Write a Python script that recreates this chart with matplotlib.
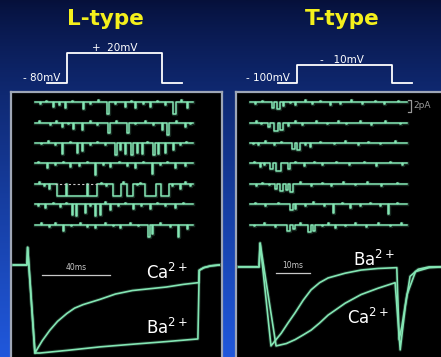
import numpy as np
import matplotlib
matplotlib.use("Agg")
import matplotlib.pyplot as plt

# ---- data ----
# voltage protocols (ms, mV)
l_prot_t = [0, 20, 20, 115, 115, 135]
l_prot_v = [-80, -80, 20, 20, -80, -80]
t_prot_t = [0, 19, 19, 114, 114, 134]
t_prot_v = [-100, -100, -10, -10, -100, -100]

# single channel sweeps: openings as (start ms, duration ms, fraction of unitary current)
L_SWEEPS = [
    [(18, 1, 0.4), (30, 1, 0.5), (48, 1, 0.6), (72, 1.5, 1.0), (90, 1, 0.4), (100, 1, 0.5),
     (115, 1, 0.4), (138, 3, 1.0), (152, 1, 0.5)],
    [(27, 1, 0.4), (38, 1, 0.5), (47, 1, 0.6), (73, 1.5, 0.9), (92, 1.5, 0.9), (127, 1, 0.6),
     (132, 1.5, 1.0), (150, 1, 0.4)],
    [(27, 1, 0.9), (42, 1, 0.8), (47, 1, 0.7), (80, 1.5, 1.0), (85, 1, 0.6), (90, 1, 0.9),
     (96, 1.5, 1.0), (102, 1, 0.8), (107, 1, 0.9), (118, 1.5, 1.0), (123, 1, 0.9), (130, 1, 0.8),
     (138, 1, 0.6)],
    [(12, 1, 0.4), (35, 1, 0.3), (60, 1, 1.0), (75, 1, 0.3), (100, 1, 0.4), (117, 1, 0.9),
     (140, 1, 0.4)],
    [(14, 1, 0.4), (22, 9, 1.0), (32, 20, 1.0), (53, 9, 1.0), (78, 8, 1.0), (92, 6, 1.0),
     (110, 11, 1.0), (126, 8, 1.0), (145, 1, 0.4)],
    [(10, 1, 0.3), (37, 1, 0.9), (41, 1, 1.0), (50, 1, 0.7), (60, 1, 1.0), (65, 1, 0.9),
     (75, 1, 0.5), (98, 1, 0.4), (115, 1, 0.4), (140, 1, 0.3)],
    [(28, 1, 0.5), (60, 1, 0.3), (85, 1, 0.3), (113, 1.5, 1.0), (117, 1, 0.8), (143, 1, 1.0),
     (152, 1, 0.4)],
]
T_SWEEPS = [
    [(22, 2, 0.5), (27, 3, 0.6), (33, 1, 0.3), (45, 1, 0.2), (80, 1, 0.2)],
    [(18, 2, 0.4), (24, 4, 0.7), (30, 3, 0.6), (38, 1, 0.3)],
    [(8, 1, 0.2), (42, 3, 0.5), (47, 3, 0.6), (60, 1, 0.3)],
    [(10, 1, 0.3), (20, 3, 0.5), (26, 5, 0.6), (38, 1.5, 0.5)],
    [(25, 2, 0.4), (30, 3, 0.6), (36, 2, 0.5), (40, 3, 0.7)],
    [(40, 3, 0.5), (45, 1, 0.4), (83, 1, 0.7), (100, 1, 0.3), (138, 1, 0.8)],
    [(37, 3, 0.5), (43, 2, 0.4), (58, 3, 0.6), (63, 2, 0.5), (85, 1, 0.3)],
]
# baseline noise blips: (ms, fraction; negative = upward)
L_BLIPS = [
    [(5, 0.15), (11, -0.12), (24, 0.2), (37, -0.1), (55, 0.12), (63, -0.15), (80, 0.18),
     (96, -0.1), (108, 0.15), (122, -0.12), (130, 0.2), (146, -0.15)],
    [(4, -0.1), (15, 0.18), (21, -0.12), (33, 0.1), (55, -0.15), (62, 0.2), (81, -0.1),
     (100, 0.15), (110, -0.12), (118, 0.18), (141, -0.1), (155, 0.15)],
    [(6, 0.12), (13, -0.15), (20, 0.2), (35, -0.1), (55, 0.15), (62, -0.12), (70, 0.18),
     (112, -0.1), (145, 0.15), (151, -0.12)],
    [(3, -0.12), (20, 0.15), (28, -0.1), (44, 0.2), (52, -0.15), (68, 0.12), (84, -0.1),
     (92, 0.18), (108, -0.12), (125, 0.15), (132, -0.1), (150, 0.2)],
    [(4, -0.12), (9, 0.15), (66, -0.1), (71, 0.2), (88, -0.15), (102, 0.12), (105, -0.1),
     (137, 0.15), (150, -0.12), (155, 0.18)],
    [(3, 0.15), (18, -0.12), (25, 0.2), (31, -0.1), (55, 0.15), (70, -0.15), (83, 0.12),
     (90, -0.1), (106, 0.18), (122, -0.12), (130, 0.15), (148, -0.1)],
    [(6, -0.1), (14, 0.18), (20, -0.12), (36, 0.15), (45, -0.1), (52, 0.2), (70, -0.15),
     (78, 0.12), (95, -0.1), (103, 0.15), (125, -0.12), (135, 0.18)],
]
T_BLIPS = [
    [(5, 0.15), (12, -0.12), (40, 0.1), (55, -0.15), (62, 0.18), (70, -0.1), (90, 0.12),
     (101, -0.15), (112, 0.18), (125, -0.1), (134, 0.15), (148, -0.12)],
    [(6, -0.12), (11, 0.15), (45, -0.1), (52, 0.18), (66, -0.15), (77, 0.12), (88, -0.1),
     (96, 0.15), (110, -0.12), (121, 0.18), (135, -0.1), (150, 0.15)],
    [(3, 0.12), (15, -0.15), (24, 0.18), (31, -0.1), (55, 0.15), (70, -0.12), (84, 0.1),
     (95, -0.15), (108, 0.18), (118, -0.1), (130, 0.12), (145, -0.15)],
    [(4, -0.1), (14, 0.15), (45, -0.12), (54, 0.18), (64, -0.1), (72, 0.15), (86, -0.15),
     (99, 0.12), (114, -0.1), (126, 0.18), (140, -0.12), (152, 0.15)],
    [(6, 0.15), (12, -0.1), (19, 0.12), (50, -0.15), (61, 0.18), (72, -0.1), (81, 0.15),
     (93, -0.12), (105, 0.1), (117, -0.15), (131, 0.18), (147, -0.1)],
    [(5, -0.12), (15, 0.18), (28, -0.1), (55, 0.15), (63, -0.15), (74, 0.12), (92, -0.1),
     (110, 0.15), (120, -0.12), (130, 0.18), (147, -0.1)],
    [(4, 0.15), (14, -0.12), (25, 0.18), (50, -0.1), (72, 0.15), (78, -0.15), (95, 0.12),
     (105, -0.1), (116, 0.18), (128, -0.12), (140, 0.15), (151, -0.1)],
]
UNIT_PA = 2.0          # unitary current
L_CLOSED_MARK = (20, 63)   # dashed closed level on sweep 5

# whole-cell currents, normalised to peak
l_on_t = [-8, 0, 0.4, 4.7]
l_on_i = [0, 0, 0.2, -1.0]
l_ca_t = [4.7, 6.5, 9, 13.5, 18, 23.5, 28, 33, 43, 52, 62, 72, 82, 92, 101]
l_ca_i = [-1.0, -0.94, -0.86, -0.74, -0.64, -0.55, -0.49, -0.45, -0.39, -0.33, -0.29, -0.27,
          -0.25, -0.22, -0.20]
l_ba_t = [4.7, 7.6, 23.5, 43, 62, 82, 100.5]
l_ba_i = [-1.0, -1.0, -0.97, -0.93, -0.90, -0.87, -0.84]
l_off_t = [101.3, 104, 108, 113]
l_off_i = [-0.06, -0.03, -0.01, 0]

t_on_t = [-6, 0, 0.3]
t_on_i = [0, 0, 0.30]
t_ba_t = [0.3, 3.5, 6.5, 8.5, 10.6, 13, 15.3, 17.8, 20.3, 25.3, 30, 35, 40.5, 41.2, 42, 43.5,
          46, 50, 54]
t_ba_i = [0.30, -1.0, -0.84, -0.71, -0.58, -0.42, -0.29, -0.20, -0.14, -0.08, -0.04, -0.02,
          -0.01, -0.92, -0.75, -0.35, -0.06, -0.01, 0]
t_ca_t = [0.3, 5.0, 8, 10.6, 13, 15.3, 17.8, 20.3, 25.3, 30, 35, 40, 41.5, 43, 44.4, 46.8,
          50, 54]
t_ca_i = [0.30, -1.0, -0.97, -0.92, -0.86, -0.80, -0.71, -0.61, -0.46, -0.35, -0.27, -0.20,
          -1.05, -0.5, -0.12, -0.03, 0, 0]

GREEN = '#84e6b4'
W, H = 441, 357

fig = plt.figure(figsize=(W / 100, H / 100), dpi=100)


def px_axes(x0, y0, x1, y1):
    ax = fig.add_axes([x0 / W, 1 - y1 / H, (x1 - x0) / W, (y1 - y0) / H])
    ax.set_axis_off()
    return ax


def glow(ax, x, y, lw=1.2):
    ax.plot(x, y, color=GREEN, lw=lw + 1.4, alpha=0.18, clip_on=False)
    ax.plot(x, y, color=GREEN, lw=lw, clip_on=False)


def sweep_path(events, blips, duration):
    allev = list(events) + [(b, 0.6, f) for b, f in blips]
    t, i = [0], [0]
    for start, dur, frac in sorted(allev):
        t += [start, start, start + dur, start + dur]
        i += [0, -frac * UNIT_PA, -frac * UNIT_PA, 0]
    t.append(duration)
    i.append(0)
    return t, i


# background gradient
bg = px_axes(0, 0, W, H)
grad = np.linspace(0, 1, 256) ** 0.8
top = np.array([6, 16, 58]) / 255
bot = np.array([32, 88, 220]) / 255
img = top + (bot - top) * grad[:, None]
bg.imshow(img[:, None, :], aspect='auto', extent=[0, 1, 0, 1], origin='upper')
bg.set_xlim(0, 1)
bg.set_ylim(0, 1)

# titles
fig.text(105 / W, 1 - 25 / H, 'L-type', color='#f4f01c', fontsize=15.5, fontweight='bold',
         ha='center', va='baseline')
fig.text(342 / W, 1 - 25 / H, 'T-type', color='#f4f01c', fontsize=15.5, fontweight='bold',
         ha='center', va='baseline')

# voltage protocols
pl = px_axes(47, 53, 182, 83)
pl.set_xlim(0, 135)
pl.set_ylim(-80, 20)
pl.plot(l_prot_t, l_prot_v, color='white', lw=1.3, clip_on=False)
pl.text(13, -79, '- 80mV', color='white', fontsize=7.5, ha='right', va='bottom')
pl.text(68, 21, '+  20mV', color='white', fontsize=7.5, ha='center', va='bottom')

pt = px_axes(278, 65, 412, 83)
pt.set_xlim(0, 134)
pt.set_ylim(-100, -10)
pt.plot(t_prot_t, t_prot_v, color='white', lw=1.3, clip_on=False)
pt.text(12, -99, '- 100mV', color='white', fontsize=7.5, ha='right', va='bottom')
pt.text(64, -9, '-   10mV', color='white', fontsize=7.5, ha='center', va='bottom')

# black panels
for x0, x1 in [(11, 222), (236, 446)]:
    panel = fig.add_axes([x0 / W, -0.02, (x1 - x0) / W, 1 - 92 / H + 0.02])
    panel.set_facecolor('black')
    panel.set_xticks([])
    panel.set_yticks([])
    for s in panel.spines.values():
        s.set_color('#9ea6b6')
        s.set_linewidth(1.6)

ROW_GAP = 3.4
FIRST_ROW = -1.2

# single channel sweeps
scl = px_axes(35, 95, 193, 240)
scl.set_xlim(0, 158)
scl.set_ylim(-(240 - 95) / 6, 0)
for k, ev in enumerate(L_SWEEPS):
    t, i = sweep_path(ev, L_BLIPS[k], 158)
    off = FIRST_ROW - k * ROW_GAP
    glow(scl, t, np.array(i) + off, lw=1.1)
off5 = FIRST_ROW - 4 * ROW_GAP
scl.plot(L_CLOSED_MARK, [off5, off5], color='#c8c8c8', lw=0.8, dashes=(2, 2))

sct = px_axes(250, 95, 407, 240)
sct.set_xlim(0, 157)
sct.set_ylim(-(240 - 95) / 6, 0)
for k, ev in enumerate(T_SWEEPS):
    t, i = sweep_path(ev, T_BLIPS[k], 157)
    off = FIRST_ROW - k * ROW_GAP
    glow(sct, t, np.array(i) + off, lw=1.1)
# 2 pA bracket
sct.plot([158, 161, 161, 158], [-0.83, -0.83, -0.83 - UNIT_PA, -0.83 - UNIT_PA],
         color='#9a9a9a', lw=0.9, clip_on=False)
sct.text(163, -0.83 - UNIT_PA / 2, '2pA', color='#9a9a9a', fontsize=6.5, va='center')

# whole-cell currents, L-type
wl = px_axes(13, 240, 220, 357)
wl.set_xlim(-8.2, 113.5)
wl.set_ylim(-1.045, 0.284)
glow(wl, l_on_t + l_ca_t + l_off_t, l_on_i + l_ca_i + l_off_i)
glow(wl, l_on_t + l_ba_t + l_off_t, l_on_i + l_ba_i + l_off_i)
wl.plot([8.8, 48.8], [-0.11, -0.11], color='#c8c8c8', lw=0.9)
wl.text(28.8, -0.08, '40ms', color='#c8c8c8', fontsize=5.5, ha='center', va='bottom')
wl.text(70, -0.09, 'Ca$^{2+}$', color='white', fontsize=12, va='center', ha='left')
wl.text(70, -0.72, 'Ba$^{2+}$', color='white', fontsize=12, va='center', ha='left')

# whole-cell currents, T-type
wt = px_axes(238, 240, 441, 357)
wt.set_xlim(-6.2, 53.5)
wt.set_ylim(-1.14, 0.34)
glow(wt, t_on_t + t_ba_t, t_on_i + t_ba_i)
glow(wt, t_on_t + t_ca_t, t_on_i + t_ca_i)
wt.plot([5, 15], [-0.076, -0.076], color='#c8c8c8', lw=0.9)
wt.text(10, -0.04, '10ms', color='#c8c8c8', fontsize=5.5, ha='center', va='bottom')
wt.text(27.5, 0.09, 'Ba$^{2+}$', color='white', fontsize=12, va='center', ha='left')
wt.text(26, -0.65, 'Ca$^{2+}$', color='white', fontsize=12, va='center', ha='left')

fig.savefig('out.png', dpi=100, facecolor='black')
